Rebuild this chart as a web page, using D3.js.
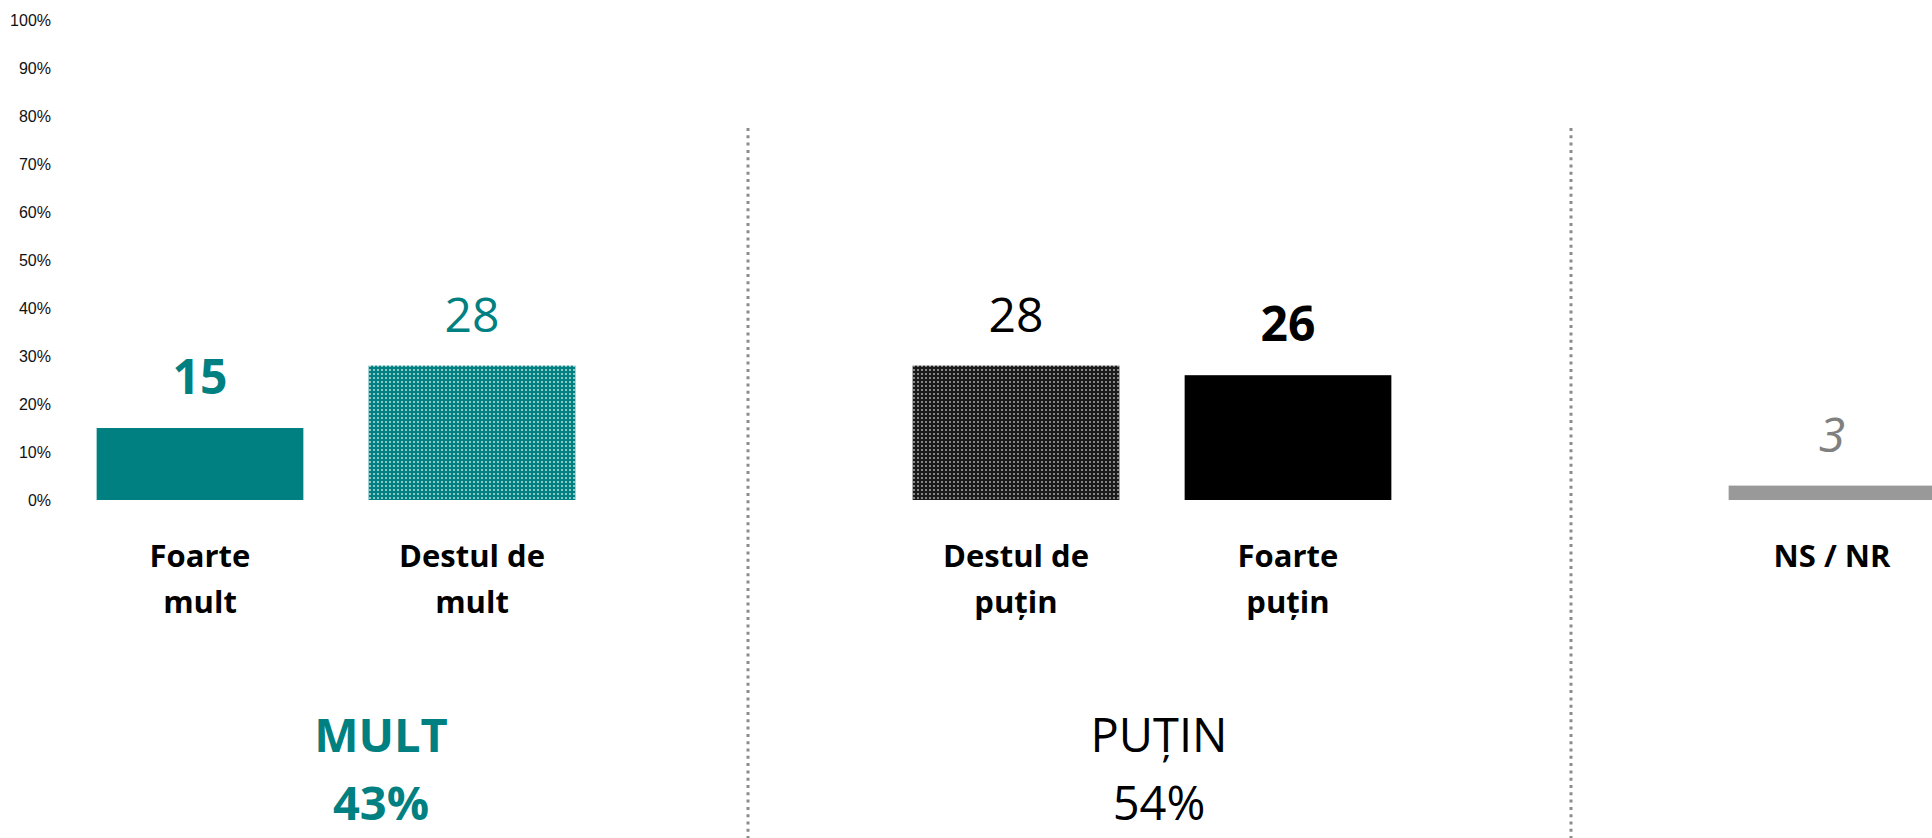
<html>
<head>
<meta http-equiv="Content-Type" content="text/html; charset=UTF-8" />
<script src="https://cdn.jsdelivr.net/npm/d3@7/dist/d3.min.js"></script>
<style type="text/css">
    body { margin: 0; background: white; }
    svg { display: block; }
</style>
</head>
<body>
<div id="chart"></div>
<script type="text/javascript">

    // les données
    const slots = ["Foarte mult", "Destul de mult", "gap1", "Destul de puțin", "Foarte puțin", "gap2", "NS / NR"];
    const categories = ["Foarte mult", "Destul de mult", "Destul de puțin", "Foarte puțin", "NS / NR"];
    const catLabels = [["Foarte", "mult"], ["Destul de", "mult"], ["Destul de", "puțin"], ["Foarte", "puțin"], ["NS / NR"]];
    const values = [15, 28, 28, 26, 3];
    const yTicks = [0, 10, 20, 30, 40, 50, 60, 70, 80, 90, 100];
    const groups = ["MULT", "PUȚIN"];
    const groupTotals = ["43%", "54%"];
    const separators = ["gap1", "gap2"];

    const width = 1932, height = 838;
    const teal = "#008080";

    // style par barre
    const barFill = ["solid-teal", "dots-teal", "dots-black", "solid-black", "solid-grey"];
    const labelStyle = [
        {color: teal, weight: "bold", italic: false},
        {color: teal, weight: "normal", italic: false},
        {color: "#000", weight: "normal", italic: false},
        {color: "#000", weight: "bold", italic: false},
        {color: "#808080", weight: "normal", italic: true}
    ];
    const groupStyle = [
        {color: teal, weight: "bold", x: 381},
        {color: "#000", weight: "normal", x: 1159}
    ];
    // petit décalage des séparateurs par rapport au centre de la case vide
    const sepNudge = [4, 11];

    const svg = d3.select("#chart").append("svg")
        .attr("width", width)
        .attr("height", height)
        .style("background", "white");

    // motifs pointillés
    const defs = svg.append("defs");
    function dots(id, bg, dot, op) {
        const p = defs.append("pattern")
            .attr("id", id)
            .attr("patternUnits", "userSpaceOnUse")
            .attr("width", 4).attr("height", 4);
        p.append("rect").attr("width", 4).attr("height", 4).attr("fill", bg);
        p.append("rect").attr("x", 1).attr("y", 1).attr("width", 2).attr("height", 2)
            .attr("fill", dot).attr("opacity", op);
    }
    dots("dots-teal", teal, "#ffffff", 0.55);
    dots("dots-black", "#1a1a1a", "#a8a8a8", 0.75);

    const fills = {
        "solid-teal": teal,
        "dots-teal": "url(#dots-teal)",
        "dots-black": "url(#dots-black)",
        "solid-black": "#000",
        "solid-grey": "#999999"
    };

    const x = d3.scaleBand()
        .domain(slots)
        .range([64, 1968])
        .paddingInner(0.24)
        .paddingOuter(0.12);

    const y = d3.scaleLinear()
        .domain([0, 100])
        .range([500, 20]);

    // axe des y (sans ligne)
    const yAxis = svg.append("g")
        .attr("transform", "translate(51,0)")
        .call(d3.axisLeft(y).tickValues(yTicks).tickSize(0).tickPadding(0).tickFormat(d => d + "%"));
    yAxis.select(".domain").remove();
    yAxis.selectAll("text")
        .style("font-family", "'Liberation Sans', Arial, sans-serif")
        .style("font-size", "16px")
        .style("fill", "#111");

    // séparateurs pointillés
    svg.append("g").selectAll("line")
        .data(separators)
        .enter()
        .append("line")
        .attr("x1", (d, i) => x(d) + x.bandwidth() / 2 + sepNudge[i])
        .attr("x2", (d, i) => x(d) + x.bandwidth() / 2 + sepNudge[i])
        .attr("y1", 128)
        .attr("y2", height)
        .style("stroke", "#8c8c8c")
        .style("stroke-width", "3px")
        .style("stroke-dasharray", "3 4.3");

    const data = categories.map((c, i) => ({cat: c, value: values[i], lines: catLabels[i], fill: fills[barFill[i]], lab: labelStyle[i]}));

    // barres
    svg.append("g").selectAll("rect")
        .data(data)
        .enter()
        .append("rect")
        .attr("x", d => x(d.cat))
        .attr("width", x.bandwidth())
        .attr("y", d => y(d.value))
        .attr("height", d => y(0) - y(d.value))
        .attr("fill", d => d.fill);

    // valeurs
    svg.append("g").selectAll("text")
        .data(data)
        .enter()
        .append("text")
        .attr("x", d => x(d.cat) + x.bandwidth() / 2)
        .attr("y", d => y(d.value) - 34)
        .attr("text-anchor", "middle")
        .style("font-family", "'Open Sans', sans-serif")
        .style("font-size", "48px")
        .style("font-weight", d => d.lab.weight)
        .style("font-style", d => d.lab.italic ? "italic" : "normal")
        .style("fill", d => d.lab.color)
        .text(d => d.value);

    // libellés des catégories
    const cats = svg.append("g").selectAll("text")
        .data(data)
        .enter()
        .append("text")
        .attr("text-anchor", "middle")
        .style("font-family", "'Open Sans', sans-serif")
        .style("font-size", "31px")
        .style("font-weight", "bold")
        .style("fill", "#000");
    cats.selectAll("tspan")
        .data(d => d.lines.map(l => ({l: l, cx: x(d.cat) + x.bandwidth() / 2})))
        .enter()
        .append("tspan")
        .attr("x", d => d.cx)
        .attr("y", (d, i) => 567 + i * 46)
        .text(d => d.l);

    // titres de groupes
    const g = svg.append("g").selectAll("text")
        .data(groups.map((t, i) => ({title: t, total: groupTotals[i], st: groupStyle[i]})))
        .enter()
        .append("text")
        .attr("text-anchor", "middle")
        .style("font-family", "'Open Sans', sans-serif")
        .style("font-size", "47px")
        .style("font-weight", d => d.st.weight)
        .style("fill", d => d.st.color);
    g.append("tspan").attr("x", d => d.st.x).attr("y", 752).text(d => d.title);
    g.append("tspan").attr("x", d => d.st.x).attr("y", 820).text(d => d.total);

</script>
</body>
</html>
